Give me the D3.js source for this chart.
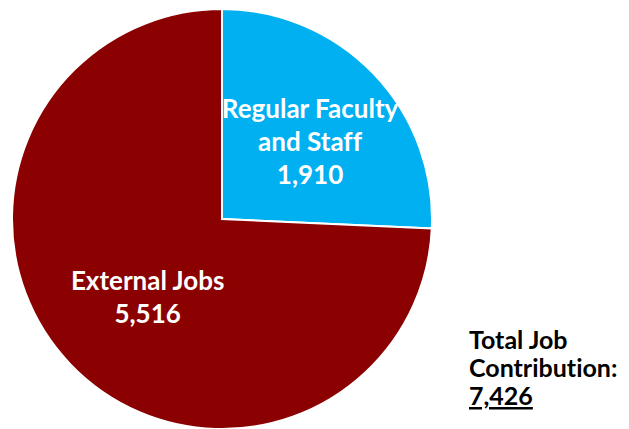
<!DOCTYPE html>
<html lang="en">
<head>
    <meta charset="UTF-8">
    <title>Total Job Contribution</title>
    <script src="https://d3js.org/d3.v7.min.js"></script>
    <style>
        body {
            margin: 0;
            background-color: #fff;
            font-family: Lato, "Open Sans", sans-serif;
        }
        text {
            font-variant-ligatures: none;
        }
    </style>
</head>
<body>
<div id="chart"></div>
<script>
    const categories = ["Regular Faculty and Staff", "External Jobs"];
    const values = [1910, 5516];
    const labelLines = [["Regular Faculty", "and Staff"], ["External Jobs"]];
    const colors = ["#00b0f0", "#8b0000"];
    const totalLines = ["Total Job", "Contribution:"];

    const width = 629;
    const height = 429;
    const cx = 222, cy = 219, radius = 210;

    const svg = d3.select("#chart")
        .append("svg")
        .attr("width", width)
        .attr("height", height);

    const pie = d3.pie().sort(null).value(d => d);
    const arcs = pie(values);

    const arc = d3.arc().innerRadius(0).outerRadius(radius);

    const g = svg.append("g").attr("transform", `translate(${cx},${cy})`);

    g.selectAll("path")
        .data(arcs)
        .enter()
        .append("path")
        .attr("d", arc)
        .attr("fill", (d, i) => colors[i])
        .attr("stroke", "#fff")
        .attr("stroke-width", 2);

    // label radius per slice (as fraction of radius)
    const labelR = [0.58, 0.49];
    const fmt = d3.format(",");

    arcs.forEach((d, i) => {
        const mid = (d.startAngle + d.endAngle) / 2;
        const r = radius * labelR[i];
        const x = Math.sin(mid) * r;
        const y = -Math.cos(mid) * r;
        const lines = labelLines[i].concat([fmt(values[i])]);
        const lh = 33;
        const t = g.append("text")
            .attr("text-anchor", "middle")
            .attr("fill", "#fff")
            .attr("font-weight", "bold")
            .attr("font-size", "26px");
        lines.forEach((s, k) => {
            t.append("tspan")
                .attr("x", x)
                .attr("y", y + (k - (lines.length - 1) / 2) * lh + 16)
                .text(s);
        });
    });

    const total = d3.sum(values);
    const lines = totalLines.concat([fmt(total)]);
    lines.forEach((s, k) => {
        svg.append("text")
            .attr("x", 469)
            .attr("y", 349 + k * 28)
            .attr("fill", "#000")
            .attr("font-weight", "bold")
            .attr("font-size", "25px")
            .attr("text-decoration", k === lines.length - 1 ? "underline" : null)
            .text(s);
    });
</script>
</body>
</html>
